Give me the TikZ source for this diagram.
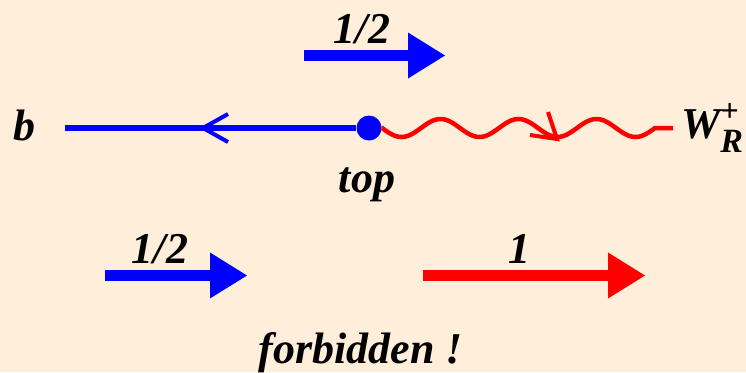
\documentclass[tikz,border=0pt]{standalone}
\usepackage{fontspec}
\setmainfont{Liberation Serif}
\usepackage{tikz}
\usetikzlibrary{positioning}
\usetikzlibrary{arrows.meta}
\usetikzlibrary{calc}
\definecolor{paper}{RGB}{255,238,217}

\begin{document}
\begin{tikzpicture}[x=1pt,y=-1pt,
  lbl/.style={font=\fontsize{44}{50}\selectfont\bfseries\itshape,inner sep=0pt,anchor=base},
  fermion/.style={blue,line width=5.5pt},
  photon/.style={red,line width=4.5pt},
  spin/.style={line width=11pt,-{Triangle[length=37pt,width=46pt,line width=0pt]}}]
  % background, fixes the page size
  \fill[paper] (0,0) rectangle (746,372);
  % vertex, b quark line and W boson line
  \node[circle,fill=blue,inner sep=0pt,minimum size=25pt] (vtx) at (369,128) {};
  \node[lbl] (b) at (24,140) {b};
  \node[lbl] (top) at (367,192) {top};
  \node[lbl,anchor=base west] (W) at (681,138) {W\makebox[0pt][l]{\raisebox{17pt}{\fontsize{32}{32}\selectfont +}}\raisebox{-14pt}{\fontsize{34}{34}\selectfont R}};
  \coordinate (bend) at (65,128);
  \coordinate (barb) at (203,128);
  \coordinate (wend) at (673,128);
  \coordinate (pbarb) at (557,139);
  \draw[fermion] (vtx.west) -- (bend);
  \draw[fermion,line width=4pt] ($(barb)+(25,-14)$) -- (barb) -- ($(barb)+(25,14)$);
  \draw[photon] (vtx.east) -- plot[domain=0:273,samples=140] ({382+\x},{128+9*sin(\x/78*360)}) -- (wend);
  \draw[photon,line width=4pt] ($(pbarb)+(-27,-4)$) -- (pbarb) -- ($(pbarb)+(-9,-27)$);
  % spin arrows
  \coordinate (s1a) at (304,55.5); \coordinate (s1b) at (445,55.5);
  \coordinate (s2a) at (105,275.5); \coordinate (s2b) at (247,275.5);
  \coordinate (s3a) at (423,275.5); \coordinate (s3b) at (645,275.5);
  \draw[spin,blue] (s1a) -- (s1b);
  \draw[spin,blue] (s2a) -- (s2b);
  \draw[spin,red] (s3a) -- (s3b);
  \node[lbl] (half1) at (362,43) {1/2};
  \node[lbl] (half2) at (160,263) {1/2};
  \node[lbl] (one) at (519,263) {1};
  \node[lbl] (forb) at (361,363) {forbidden !};
\end{tikzpicture}
\end{document}
